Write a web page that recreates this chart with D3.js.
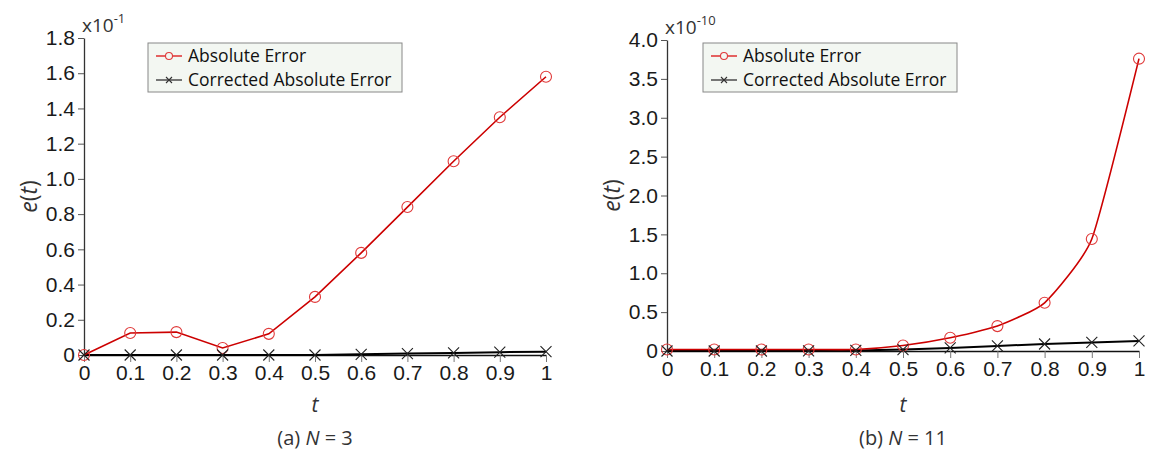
<!DOCTYPE html>
<html>
<head>
<meta charset="utf-8">
<script src="https://cdn.jsdelivr.net/npm/d3@7"></script>
<style>
  body { margin: 0; background: #fff; }
  svg { display: block; font-family: "Open Sans", "DejaVu Sans", sans-serif; }
</style>
</head>
<body>
<svg id="chart" width="1150" height="453"></svg>
<script>
// data
var tVals = [0, 0.1, 0.2, 0.3, 0.4, 0.5, 0.6, 0.7, 0.8, 0.9, 1];
var xTickLabels = ["0", "0.1", "0.2", "0.3", "0.4", "0.5", "0.6", "0.7", "0.8", "0.9", "1"];

// panel (a) N = 3, values in units of 1e-1
var absErrA  = [0, 0.125, 0.13, 0.04, 0.12, 0.33, 0.58, 0.84, 1.10, 1.35, 1.58];
var corrErrA = [0, 0, 0, 0, 0, 0, 0.004, 0.008, 0.012, 0.016, 0.019];
var yTicksA  = [0, 0.2, 0.4, 0.6, 0.8, 1.0, 1.2, 1.4, 1.6, 1.8];

// panel (b) N = 11, values in units of 1e-10
var absErrB  = [0.02, 0.02, 0.02, 0.02, 0.02, 0.07, 0.17, 0.32, 0.62, 1.44, 3.76];
var corrErrB = [0, 0, 0, 0.003, 0.008, 0.018, 0.04, 0.065, 0.09, 0.11, 0.13];
var yTicksB  = [0, 0.5, 1.0, 1.5, 2.0, 2.5, 3.0, 3.5, 4.0];

var seriesNames = ["Absolute Error", "Corrected Absolute Error"];

var svg = d3.select("#chart");

function drawPanel(cfg) {
  var g = svg.append("g");

  var x = d3.scaleLinear().domain([0, 1]).range([cfg.x0, cfg.x1]);
  var y = d3.scaleLinear().domain([0, cfg.yMax]).range([cfg.y0, cfg.y1]);

  // x axis
  var xAx = g.append("g")
    .attr("transform", `translate(0,${cfg.y0})`)
    .call(d3.axisBottom(x).tickValues(tVals).tickSize(7).tickPadding(3)
      .tickFormat((d, i) => xTickLabels[i]).tickSizeOuter(0));
  xAx.select(".domain").attr("stroke", "#111").attr("stroke-width", 1.3);
  xAx.selectAll(".tick line").attr("stroke", "#777");
  xAx.selectAll("text").style("font-size", "21px").attr("fill", "#1a1a1a");

  // y axis
  var yAx = g.append("g")
    .attr("transform", `translate(${cfg.x0},0)`)
    .call(d3.axisLeft(y).tickValues(cfg.yTicks).tickSize(6).tickPadding(3)
      .tickFormat(d => d === 0 ? "0" : d3.format(".1f")(d)).tickSizeOuter(0));
  yAx.select(".domain").attr("stroke", "#333").attr("stroke-width", 1.3);
  yAx.selectAll(".tick line").attr("stroke", "#555");
  yAx.selectAll("text").style("font-size", "21px").attr("fill", "#1a1a1a");

  // exponent label
  var ex = g.append("text")
    .attr("x", cfg.x0 - 2).attr("y", cfg.y1 - 6)
    .style("font-size", "19px").attr("fill", "#333");
  ex.append("tspan").text("x10");
  ex.append("tspan").attr("dy", -9).style("font-size", "13px").text(cfg.expo);

  // axis titles
  g.append("text")
    .attr("transform", `translate(${cfg.x0 - 47},${(cfg.y0 + cfg.y1) / 2}) rotate(-90)`)
    .attr("text-anchor", "middle")
    .style("font-size", "23px").attr("fill", "#333")
    .html('<tspan font-style="italic">e</tspan>(<tspan font-style="italic">t</tspan>)');

  g.append("text")
    .attr("x", (cfg.x0 + cfg.x1) / 2).attr("y", 412)
    .attr("text-anchor", "middle")
    .style("font-size", "21px").style("font-style", "italic").attr("fill", "#333")
    .text("t");

  g.append("text")
    .attr("x", (cfg.x0 + cfg.x1) / 2).attr("y", 445)
    .attr("text-anchor", "middle")
    .style("font-size", "20px").attr("fill", "#333")
    .html(`(${cfg.tag}) <tspan font-style="italic">N</tspan> = ${cfg.n}`);

  // lines
  var lineRed = d3.line().x((d, i) => x(tVals[i])).y(d => y(d));
  if (cfg.smooth) lineRed.curve(d3.curveCardinal.tension(0.5));
  var lineBlack = d3.line().x((d, i) => x(tVals[i])).y(d => y(d));

  g.append("path").datum(cfg.corr)
    .attr("d", lineBlack).attr("fill", "none")
    .attr("stroke", "#000").attr("stroke-width", 2);

  g.append("path").datum(cfg.abs)
    .attr("d", lineRed).attr("fill", "none")
    .attr("stroke", "#cc0000").attr("stroke-width", 1.6);

  // markers
  g.selectAll("circle.abs").data(cfg.abs).join("circle")
    .attr("class", "abs")
    .attr("cx", (d, i) => x(tVals[i])).attr("cy", d => y(d))
    .attr("r", 5.5).attr("fill", "none")
    .attr("stroke", "#e03a3a").attr("stroke-width", 1.1);

  var s = 5.5;
  g.selectAll("path.cross").data(cfg.corr).join("path")
    .attr("class", "cross")
    .attr("d", (d, i) => {
      var cx = x(tVals[i]), cy = y(d);
      return `M${cx - s},${cy - s}L${cx + s},${cy + s}M${cx - s},${cy + s}L${cx + s},${cy - s}`;
    })
    .attr("stroke", "#222").attr("stroke-width", 1.1);

  // legend
  var lg = g.append("g").attr("transform", `translate(${cfg.legX},${cfg.legY})`);
  lg.append("rect")
    .attr("width", 254).attr("height", 49)
    .attr("fill", "#f3f7f2").attr("stroke", "#888").attr("stroke-width", 1);
  var cols = [["#e03a3a", "#e03a3a"], ["#555", "#333"]];
  seriesNames.forEach((name, i) => {
    var yy = 13 + i * 24;
    lg.append("line")
      .attr("x1", 8).attr("x2", 34).attr("y1", yy).attr("y2", yy)
      .attr("stroke", cols[i][0]).attr("stroke-width", 1.6);
    if (i === 0) {
      lg.append("circle").attr("cx", 21).attr("cy", yy).attr("r", 3.5)
        .attr("fill", "#f3f7f2").attr("stroke", cols[i][1]).attr("stroke-width", 1.1);
    } else {
      var m = 3;
      lg.append("path")
        .attr("d", `M${21 - m},${yy - m}L${21 + m},${yy + m}M${21 - m},${yy + m}L${21 + m},${yy - m}`)
        .attr("stroke", cols[i][1]).attr("stroke-width", 1.1);
    }
    lg.append("text")
      .attr("x", 40).attr("y", yy + 6)
      .style("font-size", "17.5px").attr("fill", "#111")
      .text(name);
  });
}

drawPanel({
  x0: 84, x1: 546, y0: 355, y1: 38, yMax: 1.8, yTicks: yTicksA,
  abs: absErrA, corr: corrErrA, expo: "-1", tag: "a", n: 3,
  legX: 148, legY: 43, smooth: false
});

drawPanel({
  x0: 667, x1: 1139, y0: 351, y1: 40, yMax: 4.0, yTicks: yTicksB,
  abs: absErrB, corr: corrErrB, expo: "-10", tag: "b", n: 11,
  legX: 703, legY: 43, smooth: true
});
</script>
</body>
</html>
